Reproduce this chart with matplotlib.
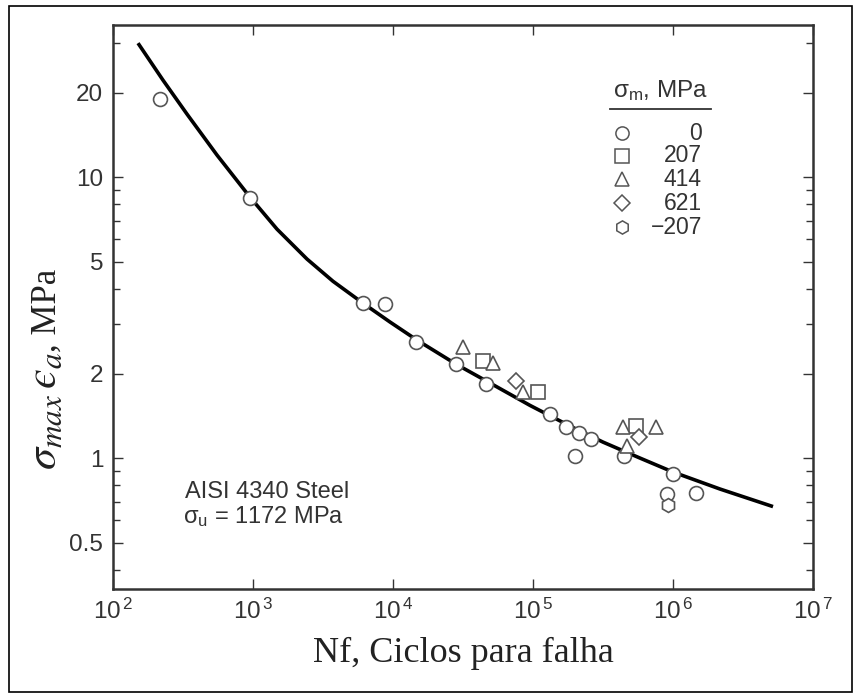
#!/usr/bin/env python3
"""
Strain-life (SWT) plot for AISI 4340 steel: sigma_max * eps_a versus cycles
to failure, with the fitted curve and test points grouped by mean stress.
"""

import matplotlib
matplotlib.use("Agg")
import matplotlib.pyplot as plt
from matplotlib.patches import Rectangle
from matplotlib.ticker import FixedLocator, NullFormatter, FixedFormatter


# fitted curve
CURVE_N = [150.9, 227.6, 337.9, 553.4, 951.9, 1484, 2431, 3727, 6105, 9520,
           14840, 28180, 49310, 95190, 183800, 316200, 581300, 1.0e6,
           2.166e6, 5.18e6]
CURVE_Y = [29.99, 22.14, 16.76, 11.98, 8.49, 6.53, 5.11, 4.26, 3.56, 3.05,
           2.63, 2.16, 1.85, 1.54, 1.30, 1.14, 1.00, 0.892, 0.776, 0.672]

# sigma_m = 0 MPa
N_0 = [217, 952, 6105, 8770, 14600, 28200, 46100, 132000, 172000, 213000,
       260000, 200000, 447000, 1.0e6, 906000, 1.46e6]
Y_0 = [18.9, 8.42, 3.56, 3.53, 2.59, 2.16, 1.83, 1.43, 1.29, 1.23,
       1.17, 1.02, 1.02, 0.88, 0.744, 0.75]

# sigma_m = 207 MPa
N_207 = [44000, 108000, 545000]
Y_207 = [2.21, 1.72, 1.30]

# sigma_m = 414 MPa
N_414 = [31600, 51800, 84800, 439000, 469000, 757000]
Y_414 = [2.48, 2.18, 1.72, 1.29, 1.10, 1.29]

# sigma_m = 621 MPa
N_621 = [75700, 572000]
Y_621 = [1.88, 1.19]

# sigma_m = -207 MPa
N_M207 = [920000]
Y_M207 = [0.68]

SERIES = [
    ("0", "o", N_0, Y_0),
    ("207", "s", N_207, Y_207),
    ("414", "^", N_414, Y_414),
    ("621", "D", N_621, Y_621),
    ("\u2212207", "h", N_M207, Y_M207),
]

Y_MAJOR = [0.5, 1, 2, 5, 10, 20]
Y_LABELS = ["0.5", "1", "2", "5", "10", "20"]
Y_MINOR = [0.4, 0.6, 0.7, 0.8, 0.9, 3, 4, 6, 7, 8, 9, 30]
X_MAJOR = [1e2, 1e3, 1e4, 1e5, 1e6, 1e7]
X_LABELS = [r"$10^{\,2}$", r"$10^{\,3}$", r"$10^{\,4}$", r"$10^{\,5}$",
            r"$10^{\,6}$", r"$10^{\,7}$"]

W, H = 860, 695
SANS = "Liberation Sans"
SERIF = "Liberation Serif"
EDGE = "#555555"
INK = "#333333"

plt.rcParams["mathtext.fontset"] = "custom"
plt.rcParams["mathtext.rm"] = SANS
plt.rcParams["mathtext.it"] = SANS + ":italic"


def px_x(x):
    return x / W


def px_y(y):
    return 1 - y / H


def main():
    fig = plt.figure(figsize=(W / 100, H / 100), dpi=100)
    fig.patches.append(Rectangle((px_x(9), px_y(692)), px_x(852) - px_x(9),
                                 px_y(6) - px_y(692), transform=fig.transFigure,
                                 fill=False, edgecolor="black", linewidth=1.2))

    ax = fig.add_axes([px_x(113), px_y(589), px_x(813) - px_x(113),
                       px_y(25) - px_y(589)])
    ax.set_xscale("log")
    ax.set_yscale("log")
    ax.set_xlim(1e2, 1e7)
    ax.set_ylim(0.342, 34.8)

    ax.plot(CURVE_N, CURVE_Y, color="black", linewidth=2.6,
            solid_capstyle="butt", solid_joinstyle="round", zorder=2)

    for label, marker, n, y in SERIES:
        ms = 8.5 if marker == "D" else 10
        ax.plot(n, y, linestyle="none", marker=marker, markersize=ms,
                markerfacecolor="white", markeredgecolor=EDGE,
                markeredgewidth=1.2, zorder=3)

    ax.xaxis.set_major_locator(FixedLocator(X_MAJOR))
    ax.xaxis.set_major_formatter(FixedFormatter(X_LABELS))
    ax.xaxis.set_minor_locator(FixedLocator([]))
    ax.yaxis.set_major_locator(FixedLocator(Y_MAJOR))
    ax.yaxis.set_major_formatter(FixedFormatter(Y_LABELS))
    ax.yaxis.set_minor_locator(FixedLocator(Y_MINOR))
    ax.yaxis.set_minor_formatter(NullFormatter())

    ax.tick_params(direction="in", which="both", top=True, right=True,
                   labelsize=17.5, colors=INK, width=1.0)
    ax.tick_params(which="major", length=7, pad=7)
    ax.tick_params(which="minor", length=5)
    for lab in ax.get_xticklabels() + ax.get_yticklabels():
        lab.set_fontfamily(SANS)
        lab.set_color(INK)
    for sp in ax.spines.values():
        sp.set_linewidth(1.8)
        sp.set_color(INK)

    ax.set_xlabel("Nf, Ciclos para falha", fontfamily=SERIF, fontsize=26,
                  labelpad=9, color="#222222")

    # y label: the math part is set larger than ", MPa" in the original
    base_x = px_x(56)
    t1 = fig.text(base_x, px_y(470), "$\\sigma_{max}\\,\u03f5_a$", rotation=90,
                  rotation_mode="anchor", ha="left", va="baseline",
                  fontsize=32, math_fontfamily="stix", color="#222222")
    fig.canvas.draw()
    bb = t1.get_window_extent(renderer=fig.canvas.get_renderer())
    fig.text(base_x, px_y(470) + bb.height / H, ", MPa", rotation=90,
             rotation_mode="anchor", ha="left", va="baseline",
             fontsize=25, fontfamily=SERIF, color="#222222")

    # legend drawn by hand, as in the original
    fig.text(px_x(661), px_y(91), r"$\mathrm{\sigma_m}$, MPa", ha="center",
             va="center", fontsize=17.5, fontfamily=SANS, color=INK)
    fig.add_artist(plt.Line2D([px_x(610), px_x(711)], [px_y(109), px_y(109)],
                              color=INK, linewidth=1.3))
    row_y = [133, 156, 179, 203, 227]
    for (label, marker, _, _), ry in zip(SERIES, row_y):
        ms = 8 if marker == "D" else 9.5
        fig.add_artist(plt.Line2D([px_x(622)], [px_y(ry)], marker=marker,
                                  markersize=ms, markerfacecolor="white",
                                  markeredgecolor=EDGE, markeredgewidth=1.1))
        fig.text(px_x(702), px_y(ry), label, ha="right", va="center",
                 fontsize=16.5, fontfamily=SANS, color=INK)

    fig.text(px_x(267), px_y(492), "AISI 4340 Steel", ha="center", va="center",
             fontsize=17, fontfamily=SANS, color=INK)
    fig.text(px_x(263), px_y(517), r"$\mathrm{\sigma_u}$ = 1172 MPa", ha="center",
             va="center", fontsize=17, fontfamily=SANS, color=INK)

    fig.savefig("out.png", dpi=100)
    plt.close(fig)


if __name__ == "__main__":
    main()
